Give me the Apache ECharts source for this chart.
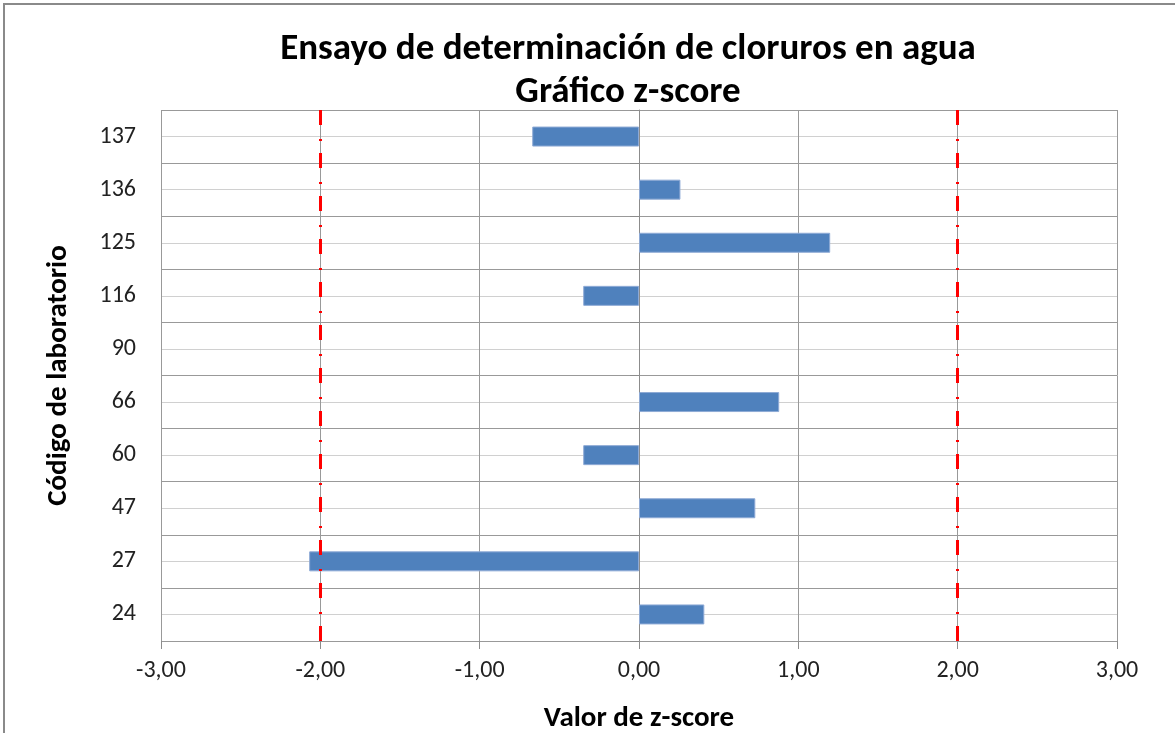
<!DOCTYPE html>
<html>
<head>
<meta charset="utf-8">
<script src="https://cdn.jsdelivr.net/npm/echarts@6/dist/echarts.min.js"></script>
<style>
  html, body { margin: 0; padding: 0; background: #fff; }
  #chart { position: absolute; left: 3px; top: 3px; width: 1172px; height: 730px;
           border-left: 2px solid #8a8a8a; border-top: 2px solid #8a8a8a; box-sizing: border-box; }
</style>
</head>
<body>
<div id="chart"></div>
<script>
// laboratorios de abajo hacia arriba
const labs = ['24', '27', '47', '60', '66', '90', '116', '125', '136', '137'];
const zScores = [0.41, -2.07, 0.73, -0.35, 0.88, null, -0.35, 1.20, 0.26, -0.67];
const limits = [-2, 2];

const FONT = "Carlito, 'Liberation Sans Narrow', 'Open Sans', sans-serif";
const fmt = v => v.toFixed(2).replace('.', ',');

const chart = echarts.init(document.getElementById('chart'));
chart.setOption({
  animation: false,
  textStyle: { fontFamily: FONT },
  title: {
    text: 'Ensayo de determinación de cloruros en agua\nGráfico z-score',
    left: 618,
    top: 18,
    textAlign: 'center',
    textStyle: { fontSize: 37, fontWeight: 'bold', color: '#000', lineHeight: 43, fontFamily: FONT }
  },
  grid: { left: 156, right: 58, top: 105, bottom: 92, outerBoundsMode: 'none', containLabel: false },
  xAxis: {
    type: 'value', min: -3, max: 3, interval: 1,
    name: 'Valor de z-score', nameLocation: 'middle', nameGap: 63,
    nameTextStyle: { fontSize: 29, fontWeight: 'bold', color: '#000', fontFamily: FONT },
    axisLine: { show: false },
    axisTick: { show: true, length: 8, lineStyle: { color: '#8c8c8c' } },
    axisLabel: { fontSize: 24, color: '#222', margin: 18, formatter: fmt },
    splitLine: { lineStyle: { color: '#999', width: 1 } }
  },
  yAxis: [{
    type: 'category', data: labs,
    name: 'Código de laboratorio', nameLocation: 'middle', nameGap: 88,
    nameTextStyle: { fontSize: 29, fontWeight: 'bold', color: '#000', fontFamily: FONT },
    axisLine: { show: true, lineStyle: { color: '#8c8c8c' } },
    axisTick: { show: true, length: 9, interval: 0, lineStyle: { color: '#8c8c8c' } },
    axisLabel: { fontSize: 24, color: '#222', margin: 25 },
    splitLine: { show: false }
  }, {
    type: 'value', min: 0, max: labs.length, interval: 0.5, show: true,
    axisLine: { show: false }, axisTick: { show: false }, axisLabel: { show: false },
    splitLine: { show: true, lineStyle: { color: ['#999', '#d0d0d0'], width: 1.2 } }
  }],
  series: [{
    type: 'bar', data: zScores, barWidth: 20, yAxisIndex: 0,
    itemStyle: { color: '#4f81bd', borderColor: '#8eaad6', borderWidth: 1 },
    markLine: {
      silent: true, symbol: 'none', label: { show: false },
      lineStyle: { color: '#ff0000', width: 3, type: [15, 12, 2, 14] },
      data: limits.map(v => ({ xAxis: v }))
    },
    z: 2
  }]
});
</script>
</body>
</html>
